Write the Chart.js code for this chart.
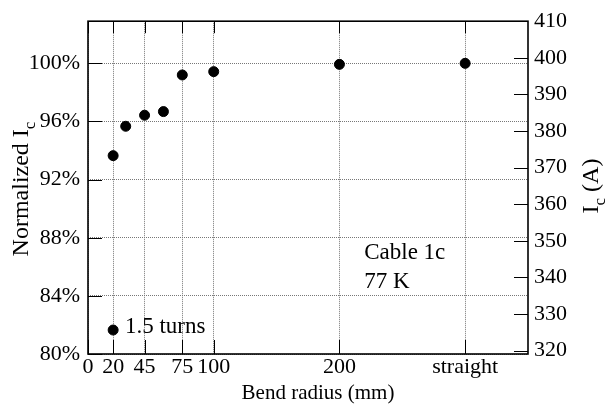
<!DOCTYPE html>
<html>
<head>
<meta charset="utf-8">
<script src="https://cdn.jsdelivr.net/npm/chart.js@4/dist/chart.umd.min.js"></script>
<style>
  html, body { margin: 0; padding: 0; background: #fff; }
  #wrap { width: 605px; height: 407px; }
</style>
</head>
<body>
<div id="wrap"><canvas id="c" width="605" height="407"></canvas></div>
<script>
// ---- data ----
const bendRadius = [20, 30, 45, 60, 75, 100, 200, 300];          // 300 = "straight"
const normalizedIc = [93.65, 95.67, 96.43, 96.68, 99.2, 99.43, 99.93, 100.0];
const turnsRadius = [20];
const turnsIc = [81.65];
const xTickValues = [0, 20, 45, 75, 100, 200, 300];
const xTickLabels = ['0', '20', '45', '75', '100', '200', 'straight'];
const yTickValues = [80, 84, 88, 92, 96, 100];
const y2TickValues = [320, 330, 340, 350, 360, 370, 380, 390, 400, 410];
const annotations = [
  { text: '1.5 turns', x: 29.4, y: 81.86 },
  { text: 'Cable 1c', x: 219.7, y: 86.94 },
  { text: '77 K', x: 219.7, y: 84.97 }
];

const FONT = 'Liberation Serif';
const TICK_FONT = { family: FONT, size: 22 };

function drawSubText(ctx, parts, cx, cy, rot, size) {
  ctx.save();
  ctx.translate(cx, cy);
  ctx.rotate(rot);
  ctx.fillStyle = '#000';
  ctx.textBaseline = 'alphabetic';
  ctx.textAlign = 'left';
  let w = 0;
  const meas = parts.map(p => {
    ctx.font = (p.sub ? Math.round(size * 0.7) : size) + 'px "' + FONT + '"';
    const m = ctx.measureText(p.t).width;
    w += m;
    return m;
  });
  let x = -w / 2;
  const base = size * 0.33;
  parts.forEach((p, i) => {
    ctx.font = (p.sub ? Math.round(size * 0.7) : size) + 'px "' + FONT + '"';
    ctx.fillText(p.t, x, base + (p.sub ? size * 0.28 : 0));
    x += meas[i];
  });
  ctx.restore();
}

const framePlugin = {
  id: 'frame',
  afterDatasetsDraw(chart) {
    const { ctx, chartArea: a, scales } = chart;
    ctx.save();
    ctx.strokeStyle = '#000';
    ctx.lineWidth = 1;
    ctx.beginPath();
    xTickValues.forEach(v => {
      const px = Math.round(scales.x.getPixelForValue(v)) + 0.5;
      ctx.moveTo(px, a.bottom); ctx.lineTo(px, a.bottom - 14);
      ctx.moveTo(px, a.top); ctx.lineTo(px, a.top + 12);
    });
    yTickValues.forEach(v => {
      const py = Math.round(scales.y.getPixelForValue(v)) + 0.5;
      ctx.moveTo(a.left, py); ctx.lineTo(a.left + 14, py);
    });
    y2TickValues.forEach(v => {
      const py = Math.round(scales.y2.getPixelForValue(v)) + 0.5;
      ctx.moveTo(a.right, py); ctx.lineTo(a.right - 14, py);
    });
    ctx.stroke();
    ctx.lineWidth = 1.6;
    ctx.strokeRect(a.left, a.top, a.right - a.left, a.bottom - a.top);
    ctx.restore();

    ctx.save();
    ctx.fillStyle = '#000';
    ctx.font = '23px "' + FONT + '"';
    ctx.textBaseline = 'middle';
    ctx.textAlign = 'left';
    annotations.forEach(an => {
      ctx.fillText(an.text, scales.x.getPixelForValue(an.x), scales.y.getPixelForValue(an.y));
    });
    ctx.restore();

    drawSubText(ctx, [{ t: 'Bend radius (mm)' }], 318, 392, 0, 21);
    drawSubText(ctx, [{ t: 'Normalized I' }, { t: 'c', sub: true }], 20, 189, -Math.PI / 2, 24);
    drawSubText(ctx, [{ t: 'I' }, { t: 'c', sub: true }, { t: ' (A)' }], 590, 186, -Math.PI / 2, 24);
  }
};

new Chart(document.getElementById('c'), {
  type: 'scatter',
  data: {
    datasets: [
      {
        label: 'Cable 1c',
        data: bendRadius.map((r, i) => ({ x: r, y: normalizedIc[i] })),
        backgroundColor: '#000', borderColor: '#000',
        pointRadius: 5, pointHoverRadius: 5, yAxisID: 'y'
      },
      {
        label: '1.5 turns',
        data: turnsRadius.map((r, i) => ({ x: r, y: turnsIc[i] })),
        backgroundColor: '#000', borderColor: '#000',
        pointRadius: 5, pointHoverRadius: 5, yAxisID: 'y'
      }
    ]
  },
  options: {
    responsive: false,
    animation: false,
    events: [],
    layout: { padding: { top: 21, left: 0, right: 0, bottom: 0 } },
    plugins: { legend: { display: false }, tooltip: { enabled: false } },
    scales: {
      x: {
        type: 'linear', position: 'bottom', min: 0, max: 350,
        afterBuildTicks: s => { s.ticks = xTickValues.map(v => ({ value: v })); },
        afterFit: s => { s.height = 53; },
        ticks: {
          font: TICK_FONT, color: '#000', padding: 0, maxRotation: 0, autoSkip: false,
          callback: v => { const i = xTickValues.indexOf(v); return i >= 0 ? xTickLabels[i] : ''; }
        },
        grid: { display: true, drawTicks: false, color: '#777', lineWidth: 1 },
        border: { display: false, dash: [1, 1] }
      },
      y: {
        type: 'linear', position: 'left', min: 80, max: 102.9,
        afterBuildTicks: s => { s.ticks = yTickValues.map(v => ({ value: v })); },
        afterFit: s => { s.width = 88; },
        ticks: { font: TICK_FONT, color: '#000', padding: 8, callback: v => v + '%' },
        grid: { display: true, drawTicks: false, color: '#777', lineWidth: 1 },
        border: { display: false, dash: [1, 1] }
      },
      y2: {
        type: 'linear', position: 'right', min: 319.1, max: 410,
        afterBuildTicks: s => { s.ticks = y2TickValues.map(v => ({ value: v })); },
        afterFit: s => { s.width = 77; },
        ticks: { font: TICK_FONT, color: '#000', padding: 6, callback: v => String(v) },
        grid: { display: false, drawTicks: false },
        border: { display: false }
      }
    }
  },
  plugins: [framePlugin]
});
</script>
</body>
</html>
